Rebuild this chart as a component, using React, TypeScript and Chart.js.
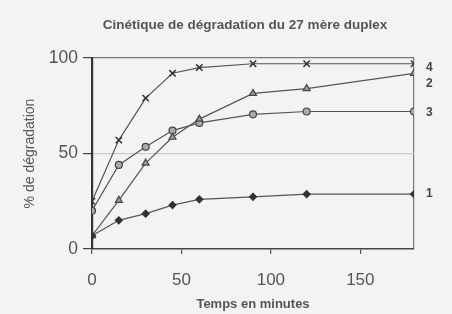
import React, { useEffect, useRef } from "react";
import { Chart, registerables } from "chart.js";

Chart.register(...registerables);

const TITLE = "Cinétique de dégradation du 27 mère duplex";
const X_TITLE = "Temps en minutes";
const Y_TITLE = "% de dégradation";
const times = [0, 15, 30, 45, 60, 90, 120, 180];
const series1 = [7, 15, 18.5, 23, 26, 27.3, 28.7, 28.7];
const series2 = [7, 25.5, 45, 58.5, 68, 81.5, 84, 92];
const series3 = [20, 44, 53.5, 62, 66, 70.5, 72, 72];
const series4 = [25, 57, 79, 92, 95, 97, 97, 97];
const seriesNames = ["1", "2", "3", "4"];
const xTicks = [0, 50, 100, 150];
const yTicks = [0, 50, 100];

const FONT = "'Liberation Sans', Arial, sans-serif";

export default function App() {
  const ref = useRef<HTMLCanvasElement | null>(null);
  useEffect(() => {
    if (!ref.current) return;
    const mk = (vals: number[]) => times.map((t, i) => ({ x: t, y: vals[i] }));
    const endLabels = {
      id: "endLabels",
      afterDatasetsDraw(chart: any) {
        const ctx = chart.ctx;
        ctx.save();
        ctx.fillStyle = "#444";
        ctx.font = `bold 12px ${FONT}`;
        ctx.textBaseline = "middle";
        ctx.textAlign = "left";
        const offsets = [0, 10, 1, 4];
        chart.data.datasets.forEach((ds: any, i: number) => {
          const meta = chart.getDatasetMeta(i);
          const pt = meta.data[meta.data.length - 1];
          ctx.fillText(ds.label, pt.x + 12, pt.y + offsets[i]);
        });
        ctx.restore();
      },
    };
    const titlePlugin = {
      id: "topTitle",
      afterDraw(chart: any) {
        const ctx = chart.ctx;
        ctx.save();
        ctx.fillStyle = "#555";
        ctx.font = `bold 13.5px ${FONT}`;
        ctx.textBaseline = "middle";
        ctx.textAlign = "center";
        ctx.fillText(TITLE, 245, 25);
        ctx.restore();
      },
    };
    const chart = new Chart(ref.current, {
      type: "line",
      data: {
        datasets: [
          {
            label: seriesNames[0],
            data: mk(series1),
            borderColor: "#555",
            backgroundColor: "#333",
            pointBorderColor: "#333",
            pointBackgroundColor: "#333",
            pointStyle: "rectRot",
            pointRadius: 3.5,
            borderWidth: 1.2,
          },
          {
            label: seriesNames[1],
            data: mk(series2),
            borderColor: "#555",
            pointBorderColor: "#444",
            pointBackgroundColor: "#999",
            pointStyle: "triangle",
            pointRadius: 4,
            borderWidth: 1.2,
          },
          {
            label: seriesNames[2],
            data: mk(series3),
            borderColor: "#555",
            pointBorderColor: "#444",
            pointBackgroundColor: "#aaa",
            pointStyle: "circle",
            pointRadius: 3.5,
            borderWidth: 1.2,
          },
          {
            label: seriesNames[3],
            data: mk(series4),
            borderColor: "#555",
            pointBorderColor: "#333",
            pointStyle: "crossRot",
            pointRadius: 4.5,
            pointBorderWidth: 1.5,
            borderWidth: 1.2,
          },
        ],
      },
      options: {
        animation: false,
        responsive: false,
        layout: { padding: { left: 0, right: 38, top: 58, bottom: 0 } },
        plugins: {
          legend: { display: false },
          tooltip: { enabled: false },
          title: { display: false },
        },
        scales: {
          x: {
            type: "linear",
            min: 0,
            max: 180,
            afterBuildTicks: (scale: any) => {
              scale.ticks = [...xTicks, 180].map((v) => ({ value: v }));
            },
            afterFit: (scale: any) => {
              scale.height = 65;
            },
            ticks: {
              color: "#555",
              font: { family: FONT, size: 17 },
              padding: 16,
              callback: (v: any) => (xTicks.includes(v) ? String(v) : ""),
            },
            grid: {
              drawOnChartArea: true,
              color: (c: any) => (c.tick && c.tick.value === 180 ? "#777" : "rgba(0,0,0,0)"),
              tickColor: (c: any) => (c.tick && c.tick.value === 180 ? "rgba(0,0,0,0)" : "#555"),
              tickLength: 5,
              lineWidth: 1.2,
            },
            border: { color: "#444", width: 1.5 },
            title: {
              display: true,
              text: X_TITLE,
              color: "#555",
              font: { family: FONT, size: 13, weight: "bold", lineHeight: 1.2 },
              padding: { top: 0, bottom: 2.2 },
            },
          },
          y: {
            type: "linear",
            min: 0,
            max: 100,
            afterBuildTicks: (scale: any) => {
              scale.ticks = yTicks.map((v) => ({ value: v }));
            },
            afterFit: (scale: any) => {
              scale.width = 92;
            },
            ticks: {
              color: "#555",
              font: { family: FONT, size: 17.5 },
              padding: 5,
            },
            grid: {
              color: (c: any) =>
                c.tick && c.tick.value === 100 ? "#777" : c.tick && c.tick.value === 50 ? "#ccc" : "rgba(0,0,0,0)",
              tickColor: "#444",
              tickLength: 9,
              lineWidth: 1.2,
            },
            border: { color: "#333", width: 2.2 },
            title: {
              display: true,
              text: Y_TITLE,
              color: "#555",
              font: { family: FONT, size: 14, lineHeight: 1.2 },
              padding: { top: 22, bottom: 0 },
            },
          },
        },
      },
      plugins: [endLabels, titlePlugin],
    } as any);
    return () => chart.destroy();
  }, []);
  return (
    <div style={{ position: "fixed", left: 0, top: 0, width: 452, height: 314, background: "#f3f3f3" }}>
      <canvas ref={ref} width={452} height={314} style={{ display: "block", width: 452, height: 314 }} />
    </div>
  );
}
